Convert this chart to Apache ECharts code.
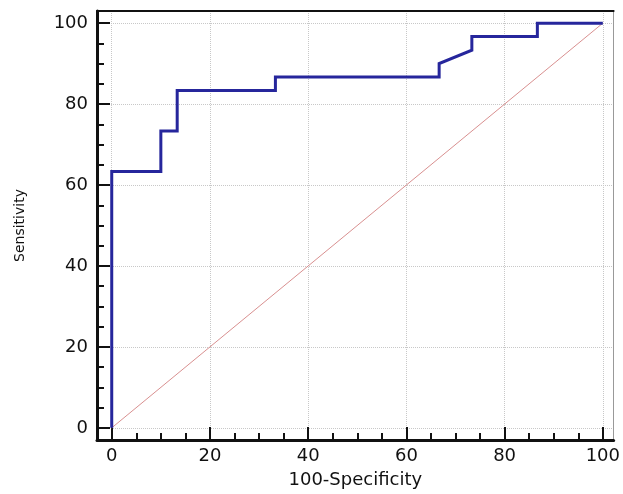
<!DOCTYPE html>
<html>
<head>
<meta charset="utf-8">
<script src="https://cdn.jsdelivr.net/npm/echarts@6/dist/echarts.min.js"></script>
<style>
  html, body { margin: 0; padding: 0; background: #fff; }
  #main { width: 623px; height: 494px; }
</style>
</head>
<body>
<div id="main"></div>
<script>
// ROC curve points (100-Specificity, Sensitivity)
var rocX = [0, 0, 10, 10, 13.33, 13.33, 33.33, 33.33, 66.67, 66.67, 73.33, 73.33, 86.67, 86.67, 100];
var rocY = [0, 63.33, 63.33, 73.33, 73.33, 83.33, 83.33, 86.67, 86.67, 90, 93.33, 96.67, 96.67, 100, 100];
// reference diagonal
var diagX = [0, 100];
var diagY = [0, 100];
// tick values
var majorTicks = [0, 20, 40, 60, 80, 100];
var minorTicks = [5, 10, 15, 25, 30, 35, 45, 50, 55, 65, 70, 75, 85, 90, 95];

function pairs(xs, ys) {
  var out = [];
  for (var i = 0; i < xs.length; i++) out.push([xs[i], ys[i]]);
  return out;
}

var font = 'DejaVu Sans';
var xMin = -3, xMax = 102.2;
var yMin = -3, yMax = 103;

var chart = echarts.init(document.getElementById('main'), null, { renderer: 'canvas' });

var option = {
  animation: false,
  backgroundColor: '#fff',
  grid: { left: 97, right: 3, top: 11, bottom: 53 },
  xAxis: [
    {
      // main x axis: major ticks, labels, grid
      type: 'value', position: 'bottom', min: xMin, max: xMax,
      name: '100-Specificity', nameLocation: 'middle', nameGap: 31,
      nameTextStyle: { fontFamily: font, fontSize: 18, color: '#111' },
      axisLine: { show: true, onZero: false, lineStyle: { color: '#111', width: 3 } },
      axisTick: { show: true, inside: true, length: 13, customValues: majorTicks, lineStyle: { color: '#111', width: 2 } },
      axisLabel: { customValues: majorTicks, margin: 7, fontFamily: font, fontSize: 18, color: '#111' },
      splitLine: { show: true, lineStyle: { color: '#c8c8c8', type: 'dotted', width: 1 } }
    },
    {
      // minor ticks
      type: 'value', position: 'bottom', min: xMin, max: xMax,
      axisLine: { show: false, onZero: false },
      axisTick: { show: true, inside: true, length: 7, customValues: minorTicks, lineStyle: { color: '#111', width: 2 } },
      axisLabel: { show: false },
      splitLine: { show: false }
    },
    {
      // top frame
      type: 'value', position: 'top', min: xMin, max: xMax,
      axisLine: { show: true, onZero: false, lineStyle: { color: '#111', width: 2 } },
      axisTick: { show: false }, axisLabel: { show: false }, splitLine: { show: false }
    }
  ],
  yAxis: [
    {
      type: 'value', position: 'left', min: yMin, max: yMax,
      name: 'Sensitivity', nameLocation: 'middle', nameGap: 70,
      nameTextStyle: { fontFamily: font, fontSize: 14, color: '#111' },
      axisLine: { show: true, onZero: false, lineStyle: { color: '#111', width: 3 } },
      axisTick: { show: true, inside: true, length: 13, customValues: majorTicks, lineStyle: { color: '#111', width: 2 } },
      axisLabel: { customValues: majorTicks, margin: 9, fontFamily: font, fontSize: 18, color: '#111' },
      splitLine: { show: true, lineStyle: { color: '#c8c8c8', type: 'dotted', width: 1 } }
    },
    {
      type: 'value', position: 'left', min: yMin, max: yMax,
      axisLine: { show: false, onZero: false },
      axisTick: { show: true, inside: true, length: 7, customValues: minorTicks, lineStyle: { color: '#111', width: 2 } },
      axisLabel: { show: false },
      splitLine: { show: false }
    },
    {
      // right frame
      type: 'value', position: 'right', min: yMin, max: yMax,
      axisLine: { show: true, onZero: false, lineStyle: { color: '#999', width: 1 } },
      axisTick: { show: false }, axisLabel: { show: false }, splitLine: { show: false }
    }
  ],
  series: [
    {
      name: 'diagonal',
      type: 'line',
      xAxisIndex: 0, yAxisIndex: 0,
      data: pairs(diagX, diagY),
      symbol: 'none',
      lineStyle: { color: '#d99090', width: 1 },
      z: 2
    },
    {
      name: 'ROC',
      type: 'line',
      xAxisIndex: 0, yAxisIndex: 0,
      data: pairs(rocX, rocY),
      symbol: 'none',
      lineStyle: { color: '#26269c', width: 3, join: 'miter' },
      z: 3
    }
  ]
};

chart.setOption(option);
</script>
</body>
</html>
